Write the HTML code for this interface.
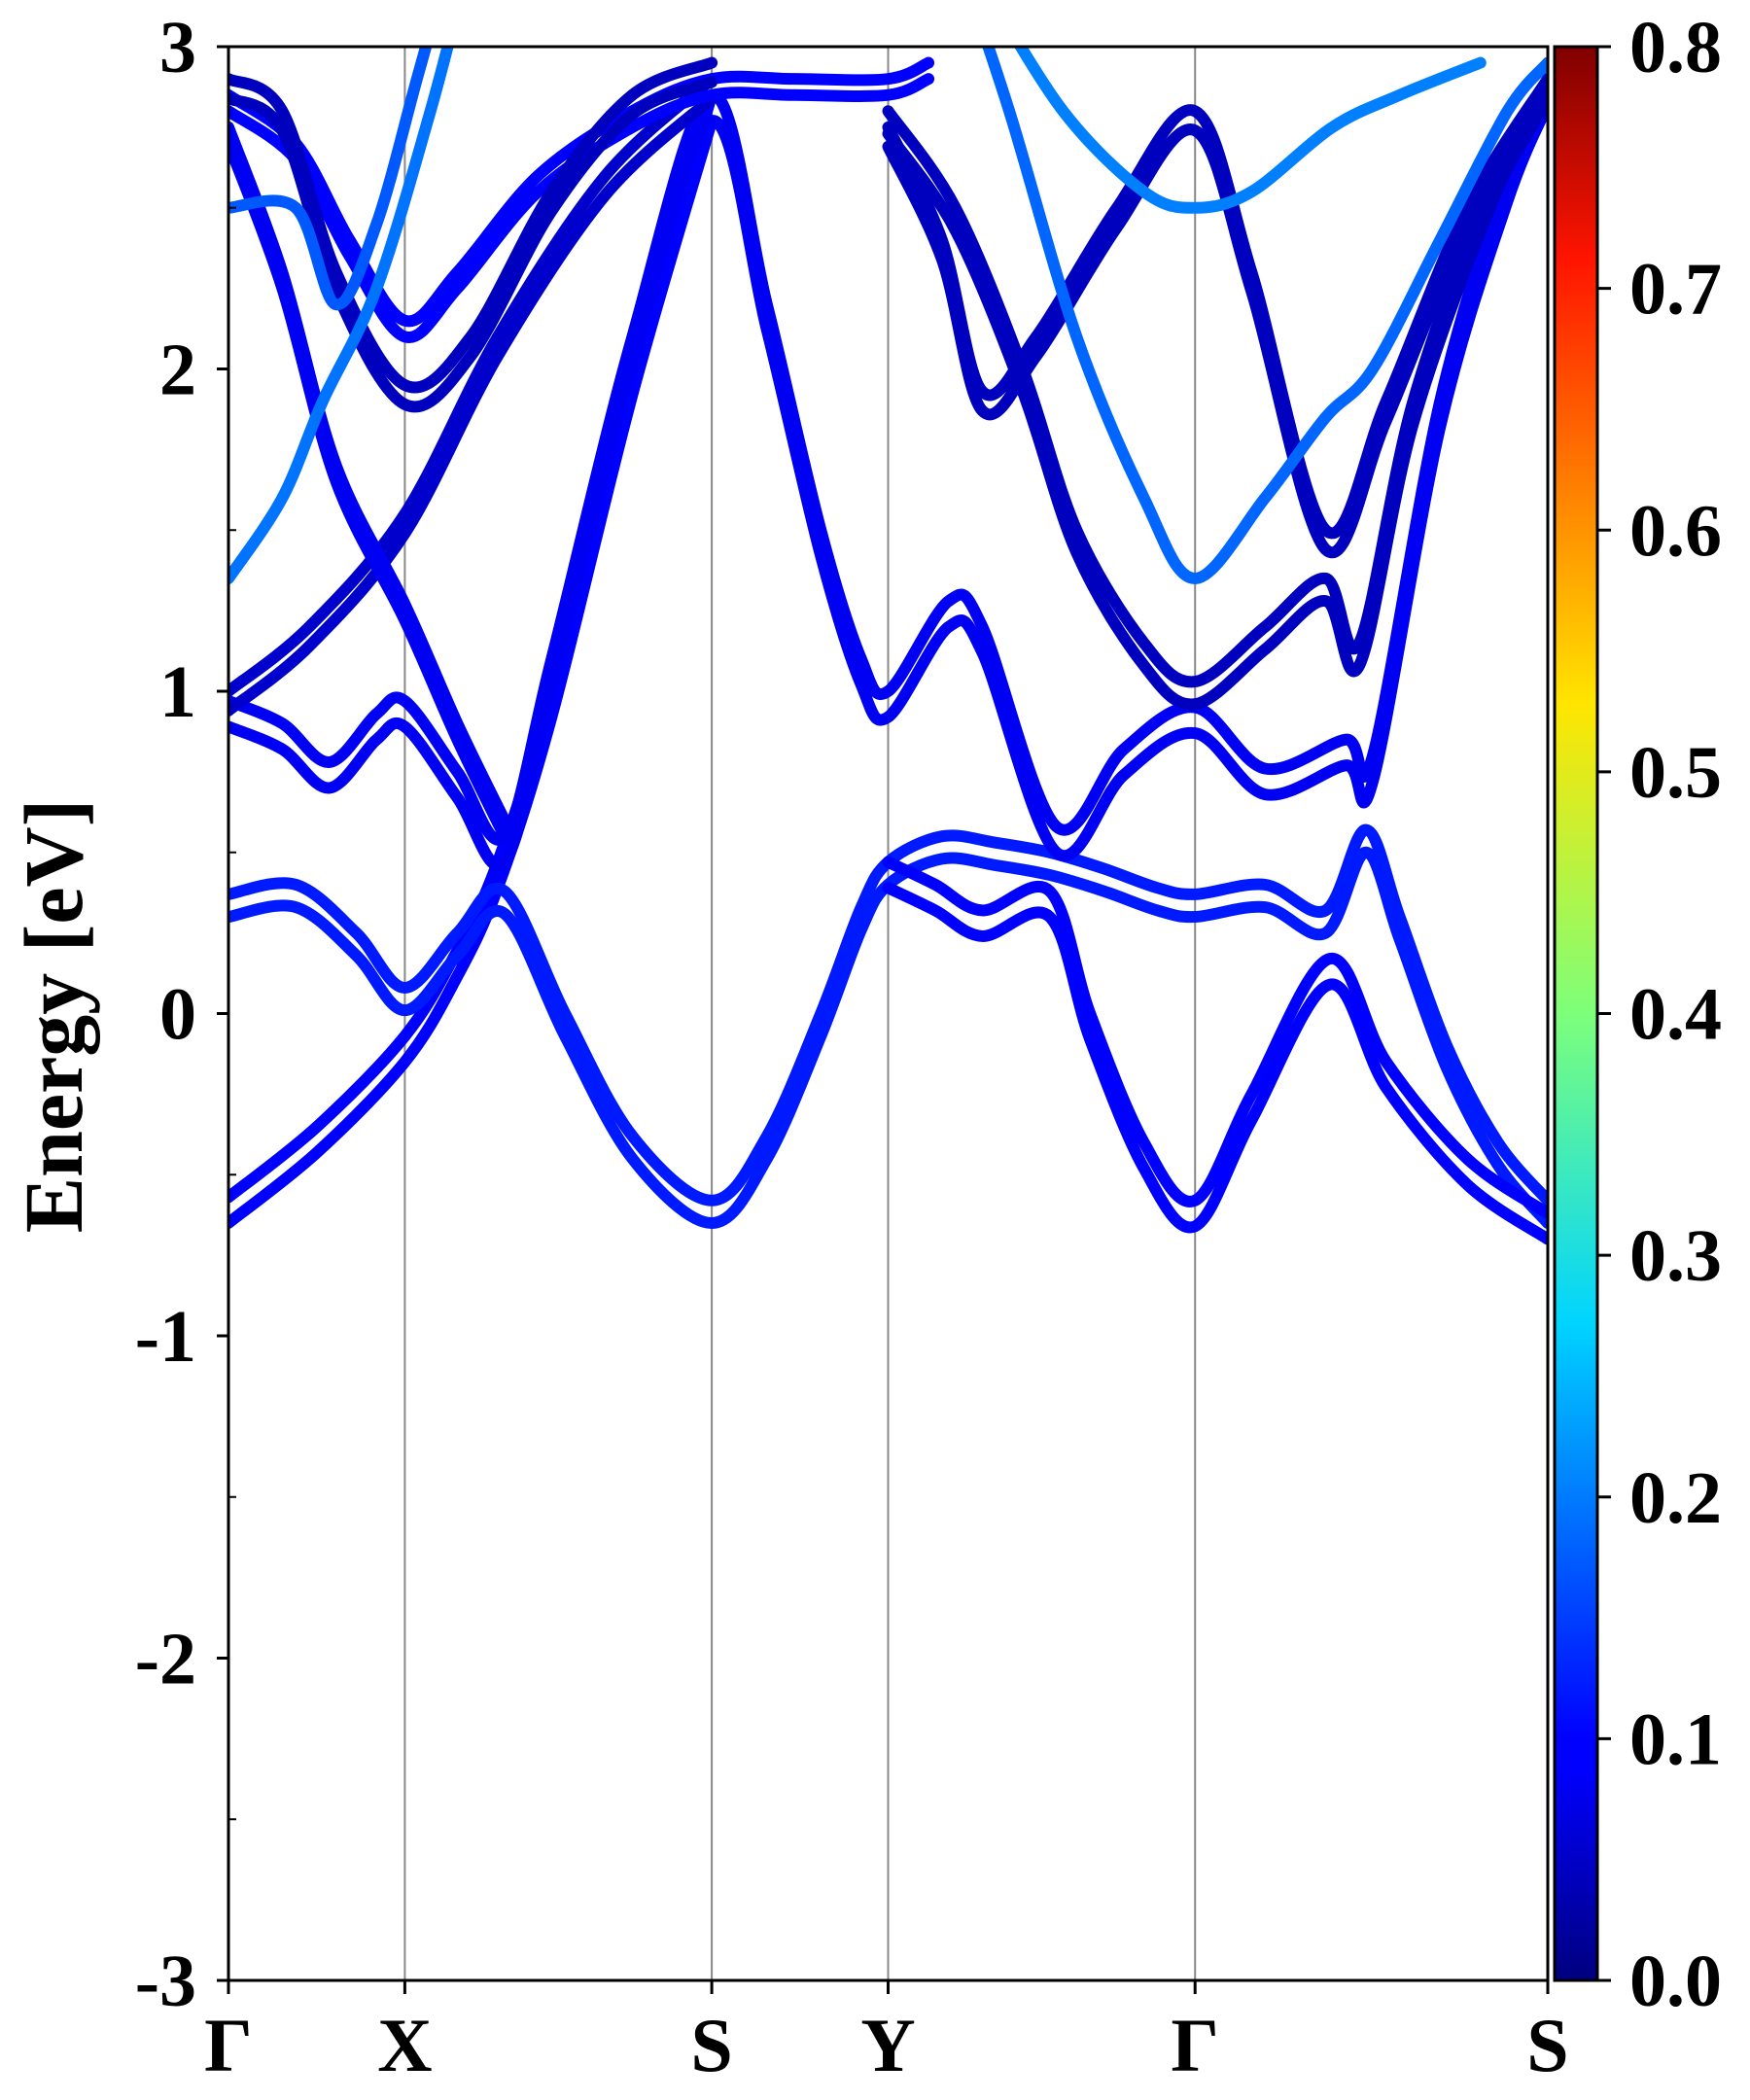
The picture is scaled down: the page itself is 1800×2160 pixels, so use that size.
<!DOCTYPE html>
<html><head><meta charset="utf-8">
<style>
html,body{margin:0;padding:0;background:#fff;}
svg{display:block;}
text{font-family:"Liberation Serif",serif;font-weight:bold;fill:#000;}
</style></head>
<body>
<svg id="chart" width="1800" height="2160" viewBox="0 0 1800 2160" xmlns="http://www.w3.org/2000/svg">
<defs>
<linearGradient id="jet" x1="0" y1="1" x2="0" y2="0">
<stop offset="0" stop-color="#00007f"/>
<stop offset="0.11" stop-color="#0000ff"/>
<stop offset="0.125" stop-color="#0000ff"/>
<stop offset="0.34" stop-color="#00d4ff"/>
<stop offset="0.5" stop-color="#7dff7a"/>
<stop offset="0.66" stop-color="#ffe500"/>
<stop offset="0.89" stop-color="#ff1400"/>
<stop offset="1" stop-color="#7f0000"/>
</linearGradient>
<clipPath id="plotclip"><rect x="235" y="48" width="1357" height="1989"/></clipPath>
</defs>
<g id="grid"></g>
<g id="bands" clip-path="url(#plotclip)"></g>
<rect x="235" y="48" width="1357" height="1989" fill="none" stroke="#000" stroke-width="3"/>
<g id="yaxis"></g>
<g id="xaxis"></g>
<text transform="translate(84,1045) rotate(-90)" text-anchor="middle" font-size="86">Energy [eV]</text>
<rect x="1599" y="48" width="44" height="1989" fill="url(#jet)" stroke="#000" stroke-width="3"/>
<g id="cbar"></g>
</svg>
<script>
const kLabels = ["Γ","X","S","Y","Γ","S"];
const kPositions = [0,131,359,490,718,980];
const yTicks = [-3,-2,-1,0,1,2,3];
const yMinor = [-2.5,-1.5,-0.5,0.5,1.5,2.5];
const cbTicks = ["0.0","0.1","0.2","0.3","0.4","0.5","0.6","0.7","0.8"];

// bands: [k, E] pairs; pairSplit = spin splitting; weight = colour value
const bandV1 = [[0,-0.57],[66,-0.35],[131,-0.07],[168,0.18],[200,0.47],[240,1.0],[300,2.0],[359,2.85]];
const bandV2 = [[0,0.37],[50,0.40],[95,0.25],[131,0.08],[170,0.25],[205,0.38],[250,0.0],[300,-0.38],[359,-0.58],[400,-0.38],[440,0.0],[470,0.33],[490,0.47],[530,0.55],[570,0.53],[610,0.50],[650,0.45],[690,0.39],[718,0.37],[770,0.40],[815,0.32],[845,0.57],[870,0.3],[905,-0.1],[943,-0.4],[980,-0.58]];
const bandV3 = [[490,0.47],[525,0.4],[560,0.32],[610,0.38],[640,0.0],[680,-0.4],[718,-0.58],[760,-0.25],[818,0.17],[860,-0.15],[920,-0.45],[980,-0.62]];
const bandC1 = [[0,0.97],[40,0.9],[75,0.78],[110,0.93],[131,0.97],[170,0.75],[205,0.55],[240,1.1],[300,2.1],[359,2.85],[400,2.2],[440,1.5],[470,1.1],[490,1.0],[535,1.28],[560,1.2],[615,0.58],[665,0.82],[718,0.95],[770,0.76],[830,0.85],[850,0.8],[900,1.9],[950,2.6],[980,2.9]];
const bandC2 = [[0,1.0],[60,1.2],[131,1.55],[200,2.1],[280,2.6],[359,2.9]];
const bandC3 = [[0,2.75],[40,2.3],[80,1.7],[131,1.27],[170,0.9],[205,0.6]];
const bandC4 = [[490,2.75],[530,2.4],[560,1.93],[600,2.1],[660,2.5],[718,2.8],[760,2.3],[815,1.5],[860,1.9],[920,2.5],[980,2.9]];
const bandC5 = [[490,2.8],[540,2.5],[590,2.0],[630,1.5],[680,1.15],[718,1.03],[770,1.2],[815,1.35],[840,1.15],[880,1.9],[940,2.6],[980,2.9]];
const bandC6 = [[0,2.85],[50,2.7],[90,2.4],[131,2.15],[170,2.3],[230,2.6],[300,2.8],[359,2.9],[420,2.9],[490,2.9],[520,2.95]];
const bandC7 = [[0,2.9],[40,2.8],[80,2.3],[131,1.95],[180,2.1],[240,2.55],[300,2.85],[359,2.95]];
const bandL1 = [[0,1.35],[40,1.6],[70,1.9],[110,2.25],[150,2.8],[175,3.2]];
const bandL2 = [[540,3.3],[580,2.8],[630,2.1],[680,1.6],[718,1.35],[770,1.6],[815,1.85],[850,2.0],[900,2.4],[950,2.8],[980,2.95]];
const bandL3 = [[560,3.2],[620,2.8],[680,2.55],[718,2.5],[760,2.55],[820,2.75],[870,2.85],[930,2.95]];
const bandL4 = [[0,2.5],[50,2.5],[80,2.2],[110,2.45],[140,2.9],[160,3.2]];

const bandList = [bandV1,bandV2,bandV3,bandC1,bandC2,bandC3,bandC4,bandC5,bandC6,bandC7,bandL1,bandL2,bandL3,bandL4];
const pairSplit = [0.08,0.07,0.08,0.08,0.06,0.05,0.06,0.07,0.05,0.06,0.0,0.0,0.0,0.0];
const bandWeight = [0.1,0.12,0.1,0.09,0.06,0.09,0.05,0.05,0.1,0.05,0.19,0.18,0.2,0.17];

const X0=235,X1=1592,YT=48,YB=2037;
const xs = k => X0 + (k/980)*(X1-X0);
const ys = e => YT + (3-e)/6*(YB-YT);
function jet(v){
  const t=Math.max(0,Math.min(1,v/0.8));
  const r=Math.max(0,Math.min(1,1.5-Math.abs(4*t-3)));
  const g=Math.max(0,Math.min(1,1.5-Math.abs(4*t-2)));
  const b=Math.max(0,Math.min(1,1.5-Math.abs(4*t-1)));
  return `rgb(${Math.round(r*255)},${Math.round(g*255)},${Math.round(b*255)})`;
}
function pathFor(pts,off){
  const p=pts.map(q=>[xs(q[0]),ys(q[1]+off)]);
  let d=`M${p[0][0]},${p[0][1]}`;
  for(let i=0;i<p.length-1;i++){
    const p0=p[Math.max(0,i-1)],p1=p[i],p2=p[i+1],p3=p[Math.min(p.length-1,i+2)];
    const c1=[p1[0]+(p2[0]-p0[0])/6,p1[1]+(p2[1]-p0[1])/6];
    const c2=[p2[0]-(p3[0]-p1[0])/6,p2[1]-(p3[1]-p1[1])/6];
    d+=` C${c1[0]},${c1[1]} ${c2[0]},${c2[1]} ${p2[0]},${p2[1]}`;
  }
  return d;
}
const NS="http://www.w3.org/2000/svg";
const gB=document.getElementById('bands');
bandList.forEach((b,i)=>{
  const offs = pairSplit[i]>0 ? [0,-pairSplit[i]] : [0];
  offs.forEach((o,j)=>{
    const el=document.createElementNS(NS,'path');
    
    
    el.setAttribute('d',pathFor(b,o));
    el.setAttribute('fill','none');
    el.setAttribute('stroke',jet(bandWeight[i]));
    el.setAttribute('stroke-width','12');
    el.setAttribute('stroke-linecap','round');
    gB.appendChild(el);
  });
});
const gG=document.getElementById('grid');
const gX=document.getElementById('xaxis');
kPositions.forEach((k,i)=>{
  if(i>0&&i<kPositions.length-1){
    const l=document.createElementNS(NS,'line');
    
    
    l.setAttribute('x1',xs(k));l.setAttribute('x2',xs(k));
    l.setAttribute('y1',YT);l.setAttribute('y2',YB);
    l.setAttribute('stroke','#888');l.setAttribute('stroke-width','2');
    gG.appendChild(l);
  }
  const t=document.createElementNS(NS,'line');
  
  
  t.setAttribute('x1',xs(k));t.setAttribute('x2',xs(k));
  t.setAttribute('y1',YB);t.setAttribute('y2',YB+14);
  t.setAttribute('stroke','#000');t.setAttribute('stroke-width','3');
  gX.appendChild(t);
  const tx=document.createElementNS(NS,'text');
  
  
  tx.setAttribute('x',xs(k));tx.setAttribute('y',2130);
  tx.setAttribute('text-anchor','middle');tx.setAttribute('font-size','78');
  tx.textContent=kLabels[i];
  gX.appendChild(tx);
});
const gY=document.getElementById('yaxis');
yTicks.forEach(v=>{
  const t=document.createElementNS(NS,'line');
  
  
  t.setAttribute('x1',X0-12);t.setAttribute('x2',X0);
  t.setAttribute('y1',ys(v));t.setAttribute('y2',ys(v));
  t.setAttribute('stroke','#000');t.setAttribute('stroke-width','3');
  gY.appendChild(t);
  const tx=document.createElementNS(NS,'text');
  
  
  tx.setAttribute('x',202);tx.setAttribute('y',ys(v)+26);
  tx.setAttribute('text-anchor','end');tx.setAttribute('font-size','76');
  tx.textContent=String(v);
  gY.appendChild(tx);
});
yMinor.forEach(v=>{
  const t=document.createElementNS(NS,'line');
  
  
  t.setAttribute('x1',X0);t.setAttribute('x2',X0+8);
  t.setAttribute('y1',ys(v));t.setAttribute('y2',ys(v));
  t.setAttribute('stroke','#000');t.setAttribute('stroke-width','2');
  gY.appendChild(t);
});
const gC=document.getElementById('cbar');
cbTicks.forEach((lab,i)=>{
  const y=YB-(i/(cbTicks.length-1))*(YB-YT);
  const t=document.createElementNS(NS,'line');
  
  
  t.setAttribute('x1',1643);t.setAttribute('x2',1657);
  t.setAttribute('y1',y);t.setAttribute('y2',y);
  t.setAttribute('stroke','#000');t.setAttribute('stroke-width','3');
  gC.appendChild(t);
  const tx=document.createElementNS(NS,'text');
  
  
  tx.setAttribute('x',1676);tx.setAttribute('y',y+26);
  tx.setAttribute('font-size','76');
  tx.textContent=lab;
  gC.appendChild(tx);
});
</script>
</body></html>
